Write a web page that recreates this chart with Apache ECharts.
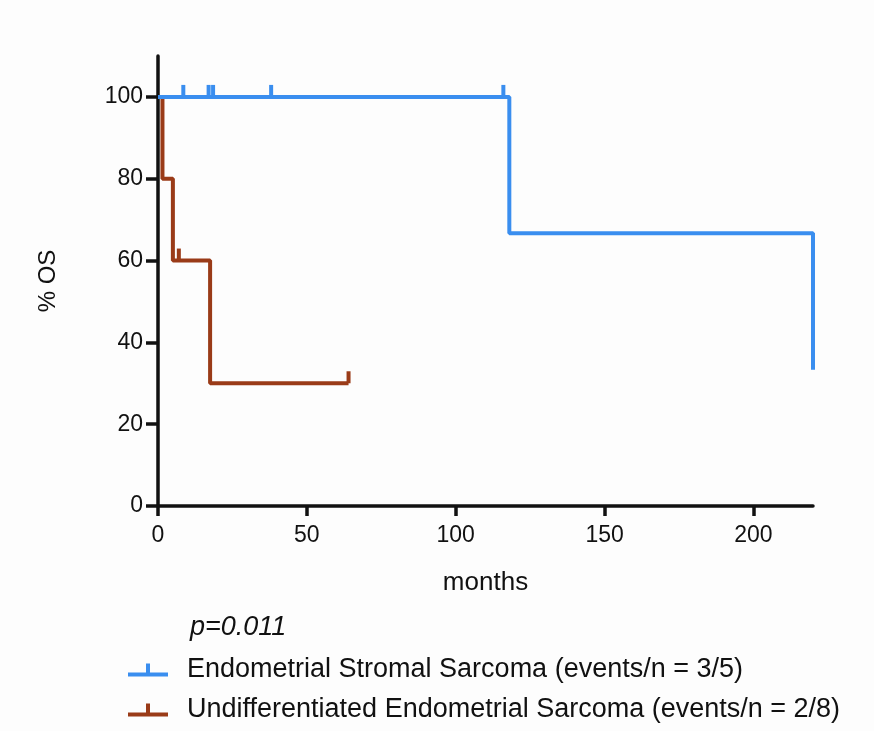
<!DOCTYPE html>
<html><head><meta charset="utf-8">
<script src="https://cdn.jsdelivr.net/npm/echarts@6/dist/echarts.min.js"></script>
<style>html,body{margin:0;padding:0;background:#fdfdfd}#c{width:874px;height:731px}</style>
</head><body><div id="c"></div>
<script>
const essName = 'Endometrial Stromal Sarcoma (events/n = 3/5)';
const uesName = 'Undifferentiated Endometrial Sarcoma (events/n = 2/8)';
const essTimes = [0, 118, 220];
const essSurv = [100, 66.7, 33.3];
const essCensor = [8.5, 17, 18.5, 38, 116];
const uesTimes = [0, 1.5, 5, 17.5, 64];
const uesSurv = [100, 80, 60, 30, 30];
const uesCensor = [7, 64];
const xTicks = [0, 50, 100, 150, 200];
const yTicks = [0, 20, 40, 60, 80, 100];
const pText = 'p=0.011';

function survAt(times, surv, t) {
  let s = surv[0];
  for (let i = 0; i < times.length; i++) if (times[i] <= t) s = surv[i];
  return s;
}
const blue = '#3a8eef', brown = '#9a3b18';
const font = 'Liberation Sans, Arial, Helvetica, sans-serif';
const icon = 'path://M0,9h40v4h-40z M18,0h4v9h-4z';

const chart = echarts.init(document.getElementById('c'));
chart.setOption({
  backgroundColor: '#fdfdfd',
  animation: false,
  grid: {left: 158, right: 61, top: 56, bottom: 225},
  xAxis: {
    type: 'value', min: 0, max: 220,
    name: 'months', nameLocation: 'middle', nameGap: 64,
    nameTextStyle: {fontSize: 26, color: '#111', fontFamily: font},
    axisLine: {lineStyle: {color: '#111', width: 3.5}},
    axisTick: {customValues: xTicks, length: 10, lineStyle: {width: 3.5, color: '#111'}},
    axisLabel: {customValues: xTicks, fontSize: 23, color: '#111', fontFamily: font, margin: 18},
    splitLine: {show: false}
  },
  yAxis: {
    type: 'value', min: 0, max: 110,
    name: '% OS', nameLocation: 'middle', nameGap: 98, nameRotate: 90,
    nameTextStyle: {fontSize: 24, color: '#111', fontFamily: font},
    axisLine: {show: true, lineStyle: {color: '#111', width: 3.5}},
    axisTick: {show: true, customValues: yTicks, length: 12, lineStyle: {width: 3.5, color: '#111'}},
    axisLabel: {customValues: yTicks, fontSize: 23, color: '#111', fontFamily: font, margin: 15},
    splitLine: {show: false}
  },
  legend: {
    orient: 'vertical', left: 128, top: 656, itemGap: 12, padding: 0,
    itemWidth: 40, itemHeight: 13,
    icon: icon,
    data: [essName, uesName],
    textStyle: {fontSize: 27, lineHeight: 28, color: '#111', fontFamily: font, padding: [0, 0, 0, 14]}
  },
  graphic: [{
    type: 'text', left: 190, top: 614,
    style: {text: pText, font: 'italic 27px ' + font, fill: '#111'}
  }],
  series: [
    {
      name: uesName, type: 'line', step: 'end', color: brown, z: 2,
      showSymbol: false, lineStyle: {width: 4, color: brown},
      data: uesTimes.map((t, i) => [t, uesSurv[i]])
    },
    {
      name: uesName + '_c', type: 'scatter', color: brown, z: 2,
      symbol: 'rect', symbolSize: [4, 12], symbolOffset: [0, -6],
      itemStyle: {opacity: 1},
      data: uesCensor.map(t => [t, survAt(uesTimes, uesSurv, t)])
    },
    {
      name: essName, type: 'line', step: 'end', color: blue, z: 3,
      showSymbol: false, lineStyle: {width: 4, color: blue},
      data: essTimes.map((t, i) => [t, essSurv[i]])
    },
    {
      name: essName + '_c', type: 'scatter', color: blue, z: 3,
      symbol: 'rect', symbolSize: [4, 12], symbolOffset: [0, -6],
      itemStyle: {opacity: 1},
      data: essCensor.map(t => [t, survAt(essTimes, essSurv, t)])
    }
  ]
});
</script></body></html>
